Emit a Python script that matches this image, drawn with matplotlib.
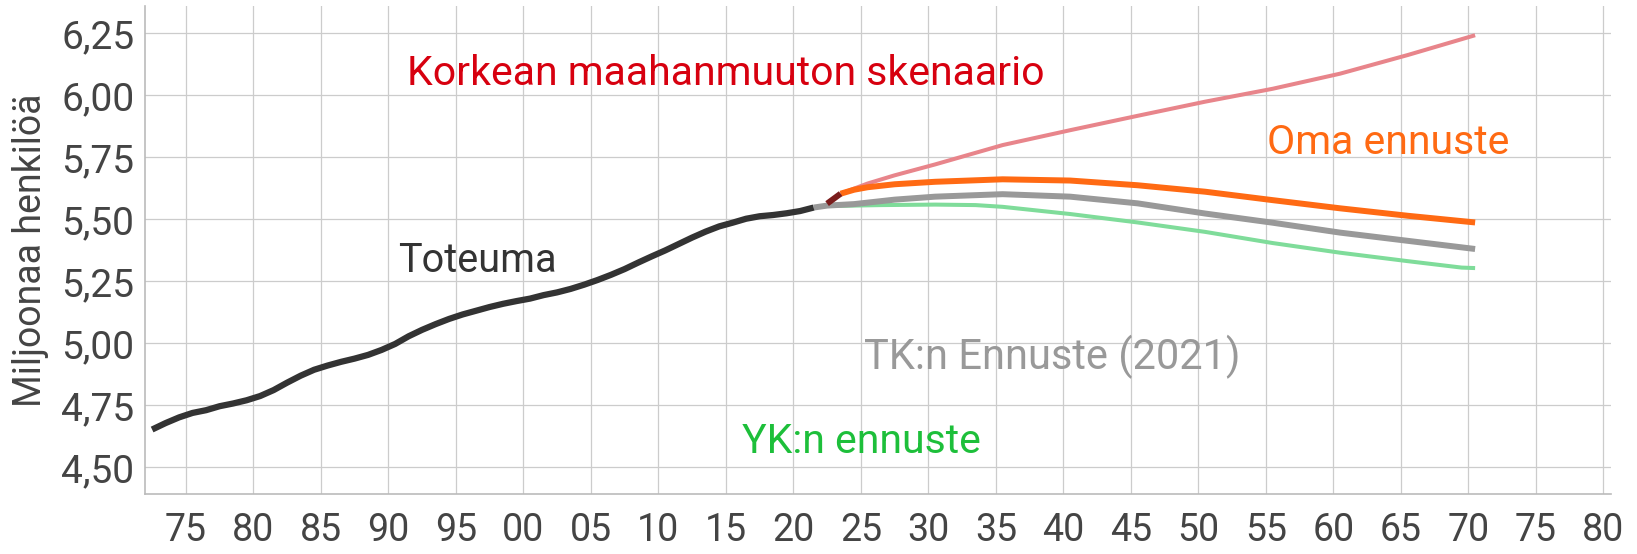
import numpy as np
import matplotlib
matplotlib.use("Agg")
import matplotlib.pyplot as plt
from matplotlib import font_manager

# history (Toteuma), millions
hist_years = list(range(1972, 2022))
hist_pop = [4.653, 4.679, 4.702, 4.720, 4.731, 4.747, 4.758, 4.771, 4.788, 4.812,
            4.842, 4.870, 4.894, 4.911, 4.926, 4.939, 4.954, 4.974, 4.998, 5.029,
            5.055, 5.078, 5.099, 5.117, 5.132, 5.147, 5.160, 5.171, 5.181, 5.195,
            5.206, 5.220, 5.237, 5.256, 5.277, 5.300, 5.326, 5.351, 5.375, 5.401,
            5.427, 5.451, 5.472, 5.487, 5.503, 5.513, 5.518, 5.525, 5.534, 5.548]

# latest actuals
recent_years = [2022, 2023]
recent_pop = [5.564, 5.604]

# TK:n ennuste (2021)
tk_years = [2021, 2022, 2024, 2027, 2030, 2035, 2040, 2045, 2050, 2055, 2060, 2065, 2070]
tk_pop = [5.548, 5.556, 5.562, 5.580, 5.592, 5.602, 5.592, 5.565, 5.524, 5.487, 5.447, 5.414, 5.381]

# YK:n ennuste
yk_years = [2022, 2023, 2026, 2030, 2033, 2035, 2040, 2045, 2050, 2055, 2060, 2065, 2069, 2070]
yk_pop = [5.558, 5.555, 5.558, 5.560, 5.558, 5.551, 5.522, 5.488, 5.450, 5.405, 5.366, 5.332, 5.306, 5.304]

# Oma ennuste
oma_years = [2023, 2024, 2025, 2027, 2030, 2035, 2040, 2045, 2050, 2055, 2060, 2065, 2070]
oma_pop = [5.604, 5.620, 5.630, 5.642, 5.652, 5.662, 5.657, 5.638, 5.612, 5.578, 5.545, 5.515, 5.488]

# Korkean maahanmuuton skenaario
high_years = [2023, 2025, 2027, 2030, 2035, 2040, 2045, 2050, 2055, 2060, 2065, 2070]
high_pop = [5.604, 5.645, 5.678, 5.722, 5.800, 5.860, 5.918, 5.975, 6.027, 6.088, 6.163, 6.243]

x_ticks = list(range(1975, 2081, 5))
y_ticks = [4.50, 4.75, 5.00, 5.25, 5.50, 5.75, 6.00, 6.25]

names = {f.name for f in font_manager.fontManager.ttflist}
font = "Liberation Sans Narrow" if "Liberation Sans Narrow" in names else "Roboto"
plt.rcParams["font.family"] = [font, "DejaVu Sans"]

def xs(years):
    # points sit in the middle of each year
    return np.array(years) + 0.5

fig = plt.figure(figsize=(16.37, 5.54), dpi=100)
ax = fig.add_axes([0.0888, 0.1083, 0.8956, 0.8805])

ax.set_xlim(1972, 2080.6)
ax.set_ylim(4.393, 6.36)

ax.set_xticks(x_ticks)
ax.set_xticklabels(["{:02d}".format(y % 100) for y in x_ticks])
ax.set_yticks(y_ticks)
ax.set_yticklabels(["{:.2f}".format(v).replace(".", ",") for v in y_ticks])
ax.grid(True, color="#cccccc", linewidth=0.9)
ax.set_axisbelow(True)
ax.tick_params(length=0, colors="#444444")
ax.tick_params(axis="x", labelsize=27, pad=13)
ax.tick_params(axis="y", labelsize=28, pad=8)

for side in ["top", "right"]:
    ax.spines[side].set_visible(False)
for side in ["left", "bottom"]:
    ax.spines[side].set_color("#bbbbbb")
    ax.spines[side].set_linewidth(1.2)

ax.plot(xs(high_years), high_pop, color="#e8858b", linewidth=2.9, solid_capstyle="butt", zorder=3)
ax.plot(xs(yk_years), yk_pop, color="#7fdc9a", linewidth=2.9, solid_capstyle="butt", zorder=3)
ax.plot(xs(tk_years), tk_pop, color="#999999", linewidth=4.3, solid_capstyle="butt", zorder=4)
ax.plot(xs(oma_years), oma_pop, color="#ff6a13", linewidth=4.3, solid_capstyle="butt", zorder=5)
ax.plot(xs(hist_years), hist_pop, color="#333333", linewidth=4.5, solid_capstyle="butt", zorder=6)
ax.plot(xs(recent_years), recent_pop, color="#7a1c1c", linewidth=4.3, solid_capstyle="butt", zorder=6)

ax.text(1991.4, 6.043, "Korkean maahanmuuton skenaario", color="#d7000f", fontsize=29.5, va="baseline")
ax.text(2055.1, 5.765, "Oma ennuste", color="#ff6a13", fontsize=29.5, va="baseline")
ax.text(1990.7, 5.290, "Toteuma", color="#333333", fontsize=28.5, va="baseline")
ax.text(2025.25, 4.895, "TK:n Ennuste (2021)", color="#999999", fontsize=30, va="baseline")
ax.text(2016.2, 4.558, "YK:n ennuste", color="#1dbf3a", fontsize=29.5, va="baseline")

fig.text(31 / 1637, 0.548, "Miljoonaa henkilöä", rotation=90, ha="center", va="center",
         color="#444444", fontsize=27)

fig.savefig("out.png", dpi=100)
